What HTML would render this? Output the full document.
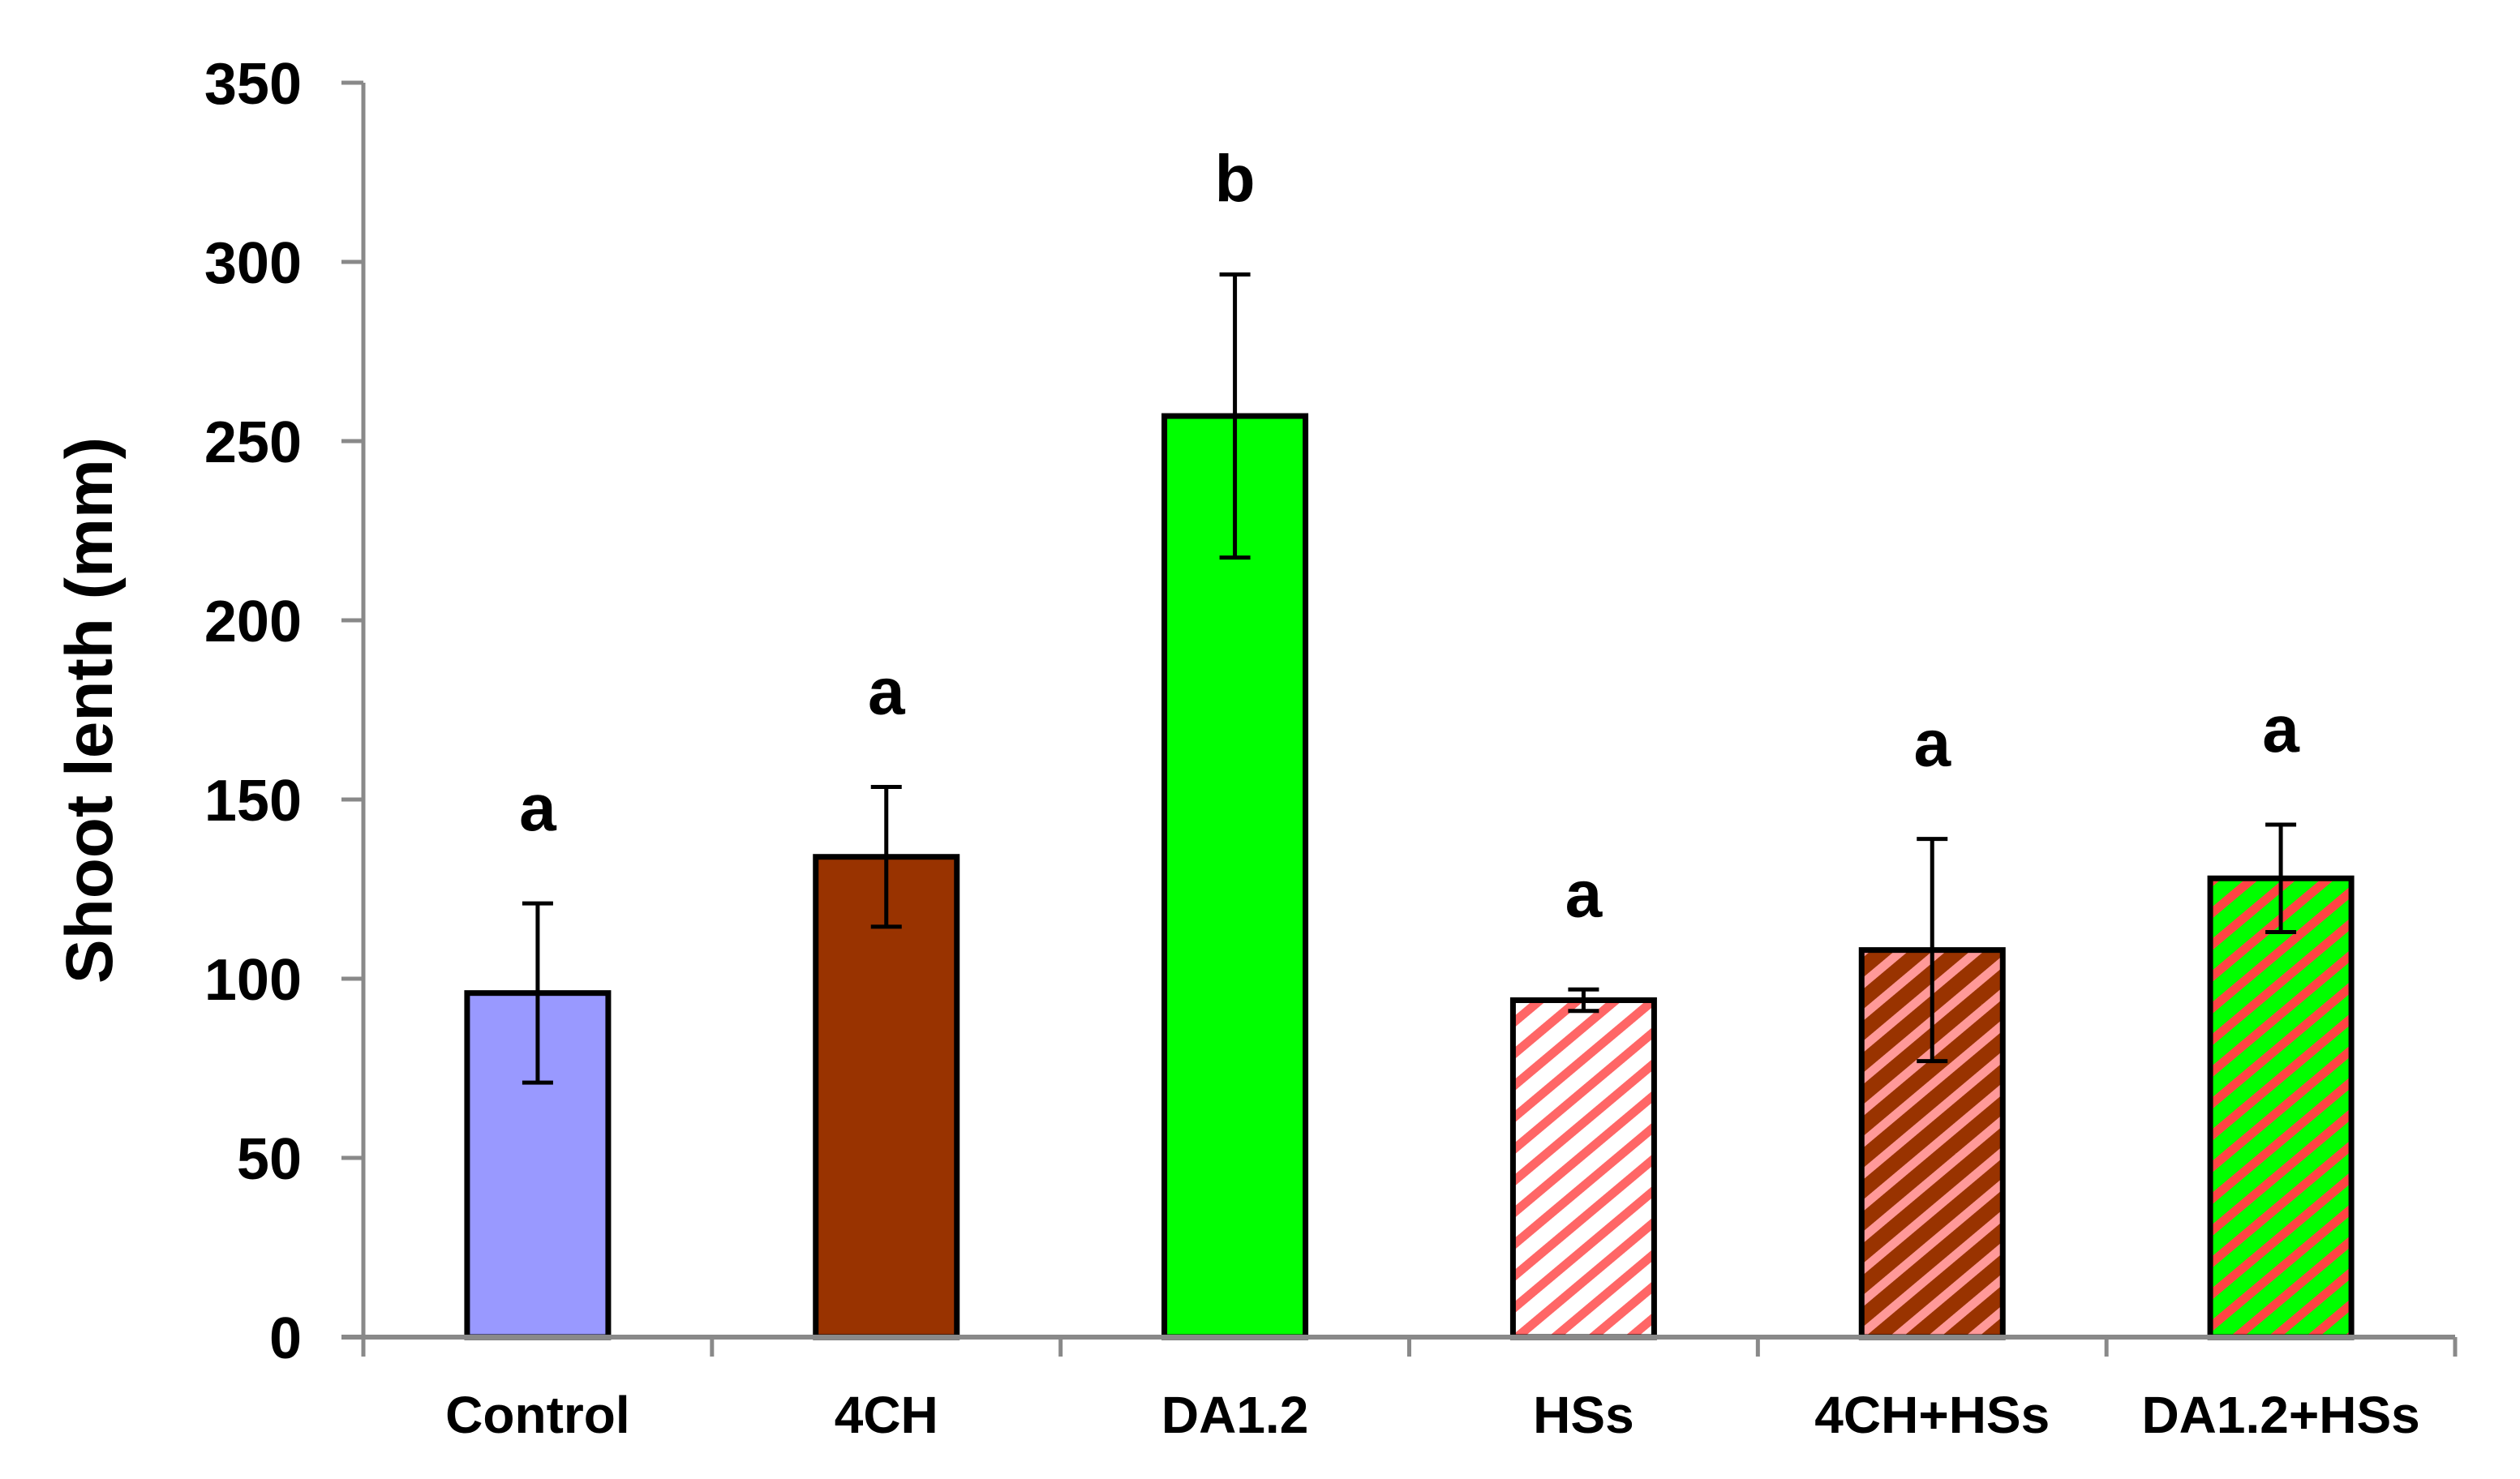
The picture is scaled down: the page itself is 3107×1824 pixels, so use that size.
<!DOCTYPE html>
<html><head><meta charset="utf-8"><style>
html,body{margin:0;padding:0;background:#fff;}
svg{display:block;font-family:"Liberation Sans",sans-serif;font-weight:bold;}
</style></head><body>
<svg id="chart" width="3107" height="1824" viewBox="0 0 3107 1824" xmlns="http://www.w3.org/2000/svg">
<defs>
<pattern id="hatchWhite" patternUnits="userSpaceOnUse" width="30" height="30" patternTransform="rotate(-40)">
<rect width="30" height="30" fill="#ffffff"/><rect width="30" height="11" fill="#ff6666"/></pattern>
<pattern id="hatchBrown" patternUnits="userSpaceOnUse" width="30" height="30" patternTransform="rotate(-40)">
<rect width="30" height="30" fill="#993300"/><rect width="30" height="11" fill="#ff9999"/></pattern>
<pattern id="hatchGreen" patternUnits="userSpaceOnUse" width="30" height="30" patternTransform="rotate(-40)">
<rect width="30" height="30" fill="#00ff00"/><rect width="30" height="11" fill="#ff4444"/></pattern>
</defs>
<g id="plot"></g>
<text x="0" y="0" transform="translate(138,876) rotate(-90)" text-anchor="middle" font-size="82">Shoot lenth (mm)</text>
</svg>
<script>
const categories = ["Control","4CH","DA1.2","HSs","4CH+HSs","DA1.2+HSs"];
const values = [96, 134, 257, 94, 108, 128];
const errors = [25, 19.5, 39.5, 3, 31, 15];
const letters = ["a","a","b","a","a","a"];
const yTicks = [0, 50, 100, 150, 200, 250, 300, 350];
const fills = ["#9999ff","#993300","#00ff00","url(#hatchWhite)","url(#hatchBrown)","url(#hatchGreen)"];

const NS = "http://www.w3.org/2000/svg";
const x0 = 448, x1 = 3027, yBase = 1649, yTop = 102, yMax = 350;
const band = (x1 - x0) / categories.length;
const barW = 174;
function yScale(v){ return yBase - (v / yMax) * (yBase - yTop); }
function xCenter(i){ return x0 + band * (i + 0.5); }
const g = document.getElementById('plot');
function mk(tag, attrs){ const e = document.createElementNS(NS, tag); for (const k in attrs) e.setAttribute(k, attrs[k]); g.appendChild(e); return e; }

yTicks.forEach(t => {
  const y = yScale(t);
  const tk = mk('line', {x1: 421, x2: x0, y1: y, y2: y, stroke: '#898989', 'stroke-width': 5});
  
  
  const lb = mk('text', {x: 372, y: y + 26, 'text-anchor': 'end', 'font-size': 72});
  lb.textContent = t;
  
  
});
for (let k = 0; k <= categories.length; k++) {
  const x = x0 + band * k;
  const tk = mk('line', {x1: x, x2: x, y1: yBase, y2: yBase + 24, stroke: '#898989', 'stroke-width': 5});
  
  
}
categories.forEach((c, i) => {
  const cx = xCenter(i), yv = yScale(values[i]);
  const bar = mk('rect', {x: cx - barW/2, y: yv, width: barW, height: yBase - yv, fill: fills[i], stroke: '#000', 'stroke-width': 7});
  
  
});
const ya = mk('line', {x1: x0, x2: x0, y1: yTop, y2: yBase, stroke: '#898989', 'stroke-width': 5});


const xa = mk('line', {x1: x0 - 27, x2: x1, y1: yBase, y2: yBase, stroke: '#898989', 'stroke-width': 6});


categories.forEach((c, i) => {
  const cx = xCenter(i);
  const hi = yScale(values[i] + errors[i]), lo = yScale(values[i] - errors[i]);
  const eb = mk('path', {d: `M${cx},${hi}V${lo}M${cx-19},${hi}H${cx+19}M${cx-19},${lo}H${cx+19}`, stroke: '#000', 'stroke-width': 5, fill: 'none'});
  
  
  const lt = mk('text', {x: cx, y: hi - 90, 'text-anchor': 'middle', 'font-size': 82});
  lt.textContent = letters[i];
  
  
  const xl = mk('text', {x: cx, y: 1767, 'text-anchor': 'middle', 'font-size': 64});
  xl.textContent = c;
  
  
});
</script>
</body></html>
